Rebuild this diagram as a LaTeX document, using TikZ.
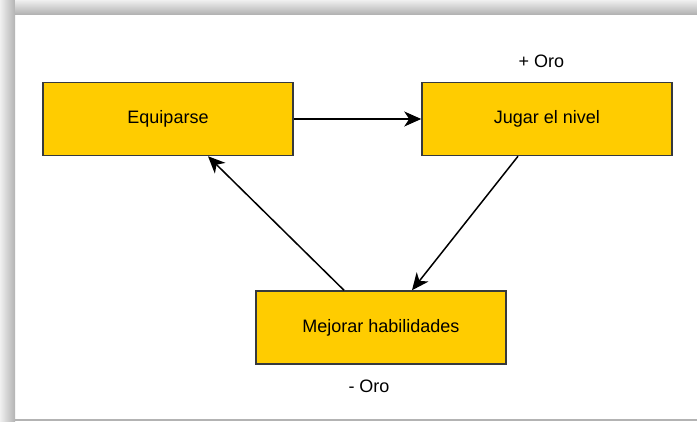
\documentclass[tikz,border=0pt]{standalone}
\usepackage{fontspec}
\setmainfont{Liberation Sans}
\usetikzlibrary{shapes, arrows, arrows.meta, positioning, calc}

\definecolor{boxyellow}{HTML}{FFCC00}
\definecolor{boxline}{HTML}{36393D}
\definecolor{frameshade}{HTML}{B3B3B3}

\begin{document}
\begin{tikzpicture}[x=1pt, y=-1pt, node distance=127.5pt, auto,
    % Define node styles for the boxes and the labels.
    stage/.style={
      rectangle, minimum width=250pt, minimum height=73pt,
      text centered, draw=boxline, line width=1.5pt, fill=boxyellow,
      align=center, font=\fontsize{18}{22}\selectfont
    },
    gold/.style={
      inner sep=0pt, font=\fontsize{18}{22}\selectfont
    },
    arrow/.style={line width=1.5pt, -{Stealth[length=17pt, width=15pt, inset=5pt]}}
]

% Page and shadow frame
\useasboundingbox (0,0) rectangle (697,421);
\fill[white] (0,0) rectangle (697,421);
\shade[left color=gray!12, right color=frameshade] (0,0) rectangle (15,421);
\shade[top color=gray!12, bottom color=frameshade] (15,0) rectangle (697,14);
\fill[frameshade] (15,418.5) rectangle (697,421);

% Node 1: Equiparse
\node [stage] (equiparse) at (168,119) {Equiparse};

% Node 2: Jugar el nivel, to the right of Equiparse
\node [stage, right=of equiparse] (jugar) {Jugar el nivel};

% Node 3: Mejorar habilidades, below between the two
\node [stage] (mejorar) at (381,327.5) {Mejorar habilidades};

% Gold labels
\node [gold, anchor=base] (masOro) at (541.5,67) {+ Oro};
\node [gold, anchor=base] (menosOro) at (369,392) {- Oro};

% Draw arrows connecting the nodes
\draw [arrow] (equiparse) -- (jugar);
\draw [arrow] ([xshift=-29pt]jugar.south) -- ([xshift=31pt]mejorar.north);
\draw [arrow] ([xshift=-37pt]mejorar.north) -- ([xshift=40pt]equiparse.south);

\end{tikzpicture}
\end{document}
